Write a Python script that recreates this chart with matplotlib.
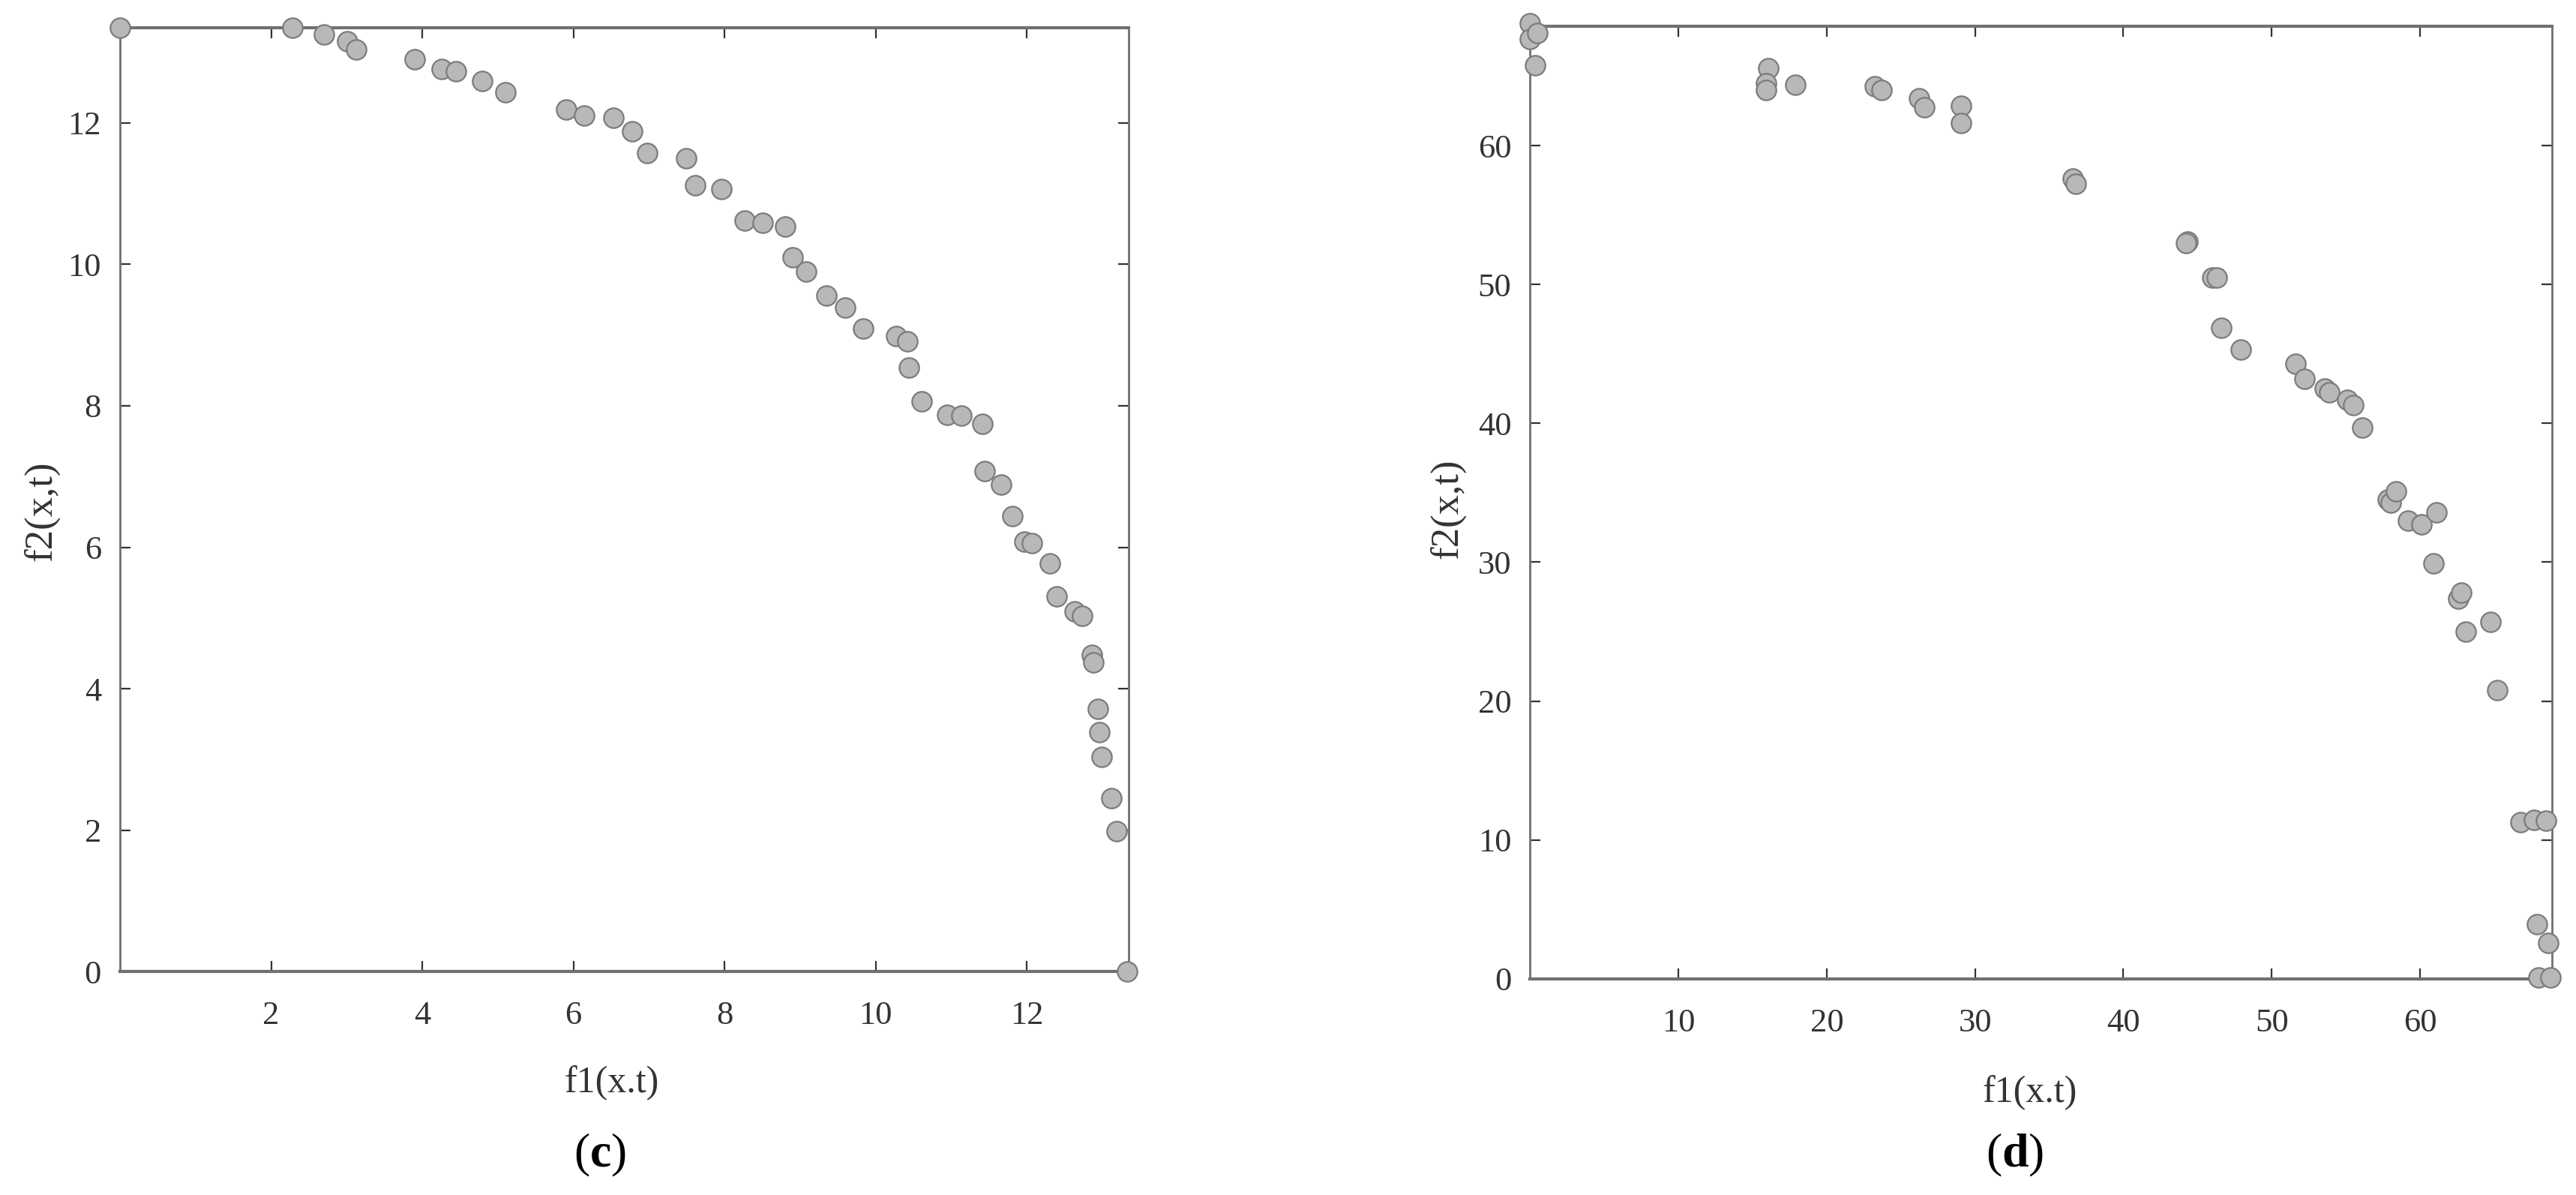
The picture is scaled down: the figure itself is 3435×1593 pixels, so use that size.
import matplotlib
matplotlib.use("Agg")
from matplotlib import pyplot as plt

plt.rcParams['font.family'] = ['Liberation Serif', 'DejaVu Serif']
plt.rcParams['mathtext.fontset'] = 'custom'
plt.rcParams['mathtext.rm'] = 'Liberation Serif'
plt.rcParams['mathtext.bf'] = 'Liberation Serif:bold'

# panel (c)
c_f1 = [0.0, 2.28, 2.70, 3.01, 3.13, 3.90, 4.26, 4.45, 4.79, 5.10,
        5.90, 6.14, 6.53, 6.78, 6.98, 7.49, 7.61, 7.96, 8.27, 8.50,
        8.80, 8.90, 9.08, 9.35, 9.60, 9.83, 10.27, 10.42, 10.44, 10.61,
        10.95, 11.13, 11.41, 11.44, 11.66, 11.81, 11.97, 12.07, 12.31, 12.40,
        12.63, 12.73, 12.86, 12.88, 12.94, 12.96, 12.99, 13.12, 13.19, 13.33]
c_f2 = [13.35, 13.35, 13.25, 13.15, 13.04, 12.90, 12.76, 12.73, 12.59, 12.43,
        12.19, 12.11, 12.07, 11.88, 11.57, 11.50, 11.12, 11.07, 10.62, 10.59,
        10.53, 10.10, 9.90, 9.56, 9.39, 9.09, 8.99, 8.91, 8.54, 8.06,
        7.87, 7.86, 7.75, 7.08, 6.89, 6.44, 6.08, 6.06, 5.77, 5.30,
        5.09, 5.03, 4.48, 4.37, 3.71, 3.39, 3.03, 2.45, 1.99, 0.0]

# panel (d)
d_f1 = [0.0, 0.0, 0.5, 0.35, 16.07, 15.9, 15.9, 17.86, 23.24, 23.7,
        26.2, 26.6, 29.04, 29.04, 36.6, 36.8, 44.3, 44.2, 46.0, 46.3,
        46.6, 47.9, 51.6, 52.2, 53.6, 53.9, 55.1, 55.5, 56.1, 57.8,
        58.05, 58.4, 59.2, 60.1, 61.1, 60.9, 62.6, 62.8, 63.06, 64.75,
        65.2, 66.75, 67.7, 68.5, 67.9, 68.65, 68.0, 68.8]
d_f2 = [68.8, 67.7, 68.1, 65.8, 65.6, 64.5, 64.0, 64.4, 64.27, 64.0,
        63.4, 62.75, 62.9, 61.65, 57.66, 57.25, 53.1, 53.0, 50.5, 50.5,
        46.9, 45.3, 44.3, 43.2, 42.5, 42.25, 41.7, 41.3, 39.7, 34.5,
        34.3, 35.1, 33.0, 32.75, 33.6, 29.9, 27.4, 27.8, 25.0, 25.7,
        20.8, 11.3, 11.45, 11.4, 3.9, 2.6, 0.1, 0.1]

c_xticks = [2, 4, 6, 8, 10, 12]
c_yticks = [0, 2, 4, 6, 8, 10, 12]
d_xticks = [10, 20, 30, 40, 50, 60]
d_yticks = [0, 10, 20, 30, 40, 50, 60]

fig = plt.figure(figsize=(34.35, 15.93), dpi=100)
ax1 = fig.add_axes([0.0466, 0.187, 0.3916, 0.790])
ax2 = fig.add_axes([0.594, 0.181, 0.3967, 0.797])


def style(ax, xs, ys, xlim, ylim, xticks, yticks):
    ax.plot(xs, ys, 'o', ms=19, mfc='#b8b8b8', mec='#7c7c7c', mew=1.6,
            clip_on=False, zorder=5)
    ax.set_xlim(*xlim)
    ax.set_ylim(*ylim)
    ax.set_xticks(xticks)
    ax.set_yticks(yticks)
    for side in ['top', 'bottom']:
        ax.spines[side].set_linewidth(3.0)
        ax.spines[side].set_color('#707070')
    for side in ['left', 'right']:
        ax.spines[side].set_linewidth(2.0)
        ax.spines[side].set_color('#707070')
    ax.tick_params(direction='in', length=10, width=1.6, color='#333333',
                   top=True, right=True, labelsize=32, labelcolor='#333333')
    ax.tick_params(axis='x', pad=28)
    ax.tick_params(axis='y', pad=18)


style(ax1, c_f1, c_f2, (0, 13.35), (0, 13.35), c_xticks, c_yticks)
style(ax2, d_f1, d_f2, (0, 68.9), (0, 68.6), d_xticks, d_yticks)

ax1.set_xlabel('f1(x.t)', fontsize=36, color='#333333', va='center')
ax1.xaxis.set_label_coords(0.4875, -0.118)
ax1.set_ylabel('f2(x,t)', fontsize=38, color='#333333', va='center')
ax1.yaxis.set_label_coords(-0.078, 0.488)

ax2.set_xlabel('f1(x.t)', fontsize=36, color='#333333', va='center')
ax2.xaxis.set_label_coords(0.489, -0.120)
ax2.set_ylabel('f2(x,t)', fontsize=38, color='#333333', va='center')
ax2.yaxis.set_label_coords(-0.081, 0.493)

fig.text(0.233, 0.033, r'$\mathrm{(}\mathbf{c}\mathrm{)}$', fontsize=46,
         ha='center', va='center')
fig.text(0.782, 0.033, r'$\mathrm{(}\mathbf{d}\mathrm{)}$', fontsize=46,
         ha='center', va='center')

fig.savefig('out.png', dpi=100)
